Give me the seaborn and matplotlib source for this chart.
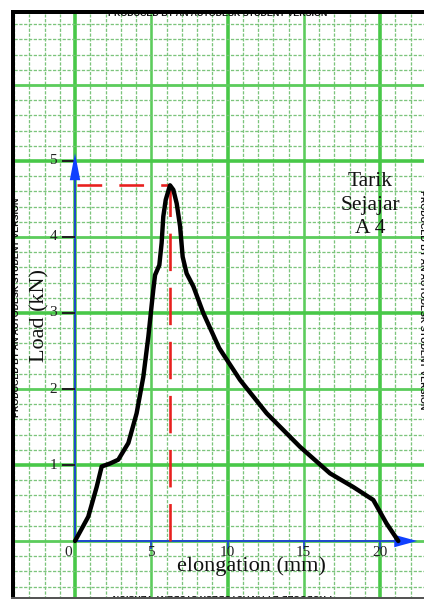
import numpy as np
import pandas as pd
import matplotlib
matplotlib.use("Agg")
import matplotlib.pyplot as plt
import seaborn as sns
from matplotlib.patches import Rectangle

# ---- data ----
elongation_mm = [0, 0.87, 1.42, 1.75, 2.30, 2.84, 3.50, 4.04, 4.48, 4.81, 5.13, 5.25,
                 5.53, 5.68, 5.79, 5.95, 6.23, 6.45, 6.67, 6.89, 7.06, 7.32, 7.76,
                 8.41, 9.45, 10.82, 12.57, 14.75, 16.72, 18.25, 19.56, 20.43, 21.20]
load_kN = [0, 0.32, 0.71, 0.98, 1.02, 1.07, 1.29, 1.68, 2.16, 2.69, 3.30, 3.50,
           3.63, 3.92, 4.27, 4.49, 4.68, 4.62, 4.44, 4.14, 3.74, 3.52, 3.35,
           3.00, 2.54, 2.12, 1.68, 1.24, 0.89, 0.71, 0.54, 0.23, 0.0]
peak_elongation = 6.25
peak_load = 4.68
x_ticks = [5, 10, 15, 20]
x_tick_labels = ["5", "10", "15", "20"]
y_ticks = [1, 2, 3, 4, 5]
y_tick_labels = ["1", "2", "3", "4", "5"]
origin_label = "0"
x_label = "elongation (mm)"
y_label = "Load (kN)"
note = "Tarik\nSejajar\nA 4"
watermark = "PRODUCED BY AN AUTODESK STUDENT VERSION"

df = pd.DataFrame({"elongation": elongation_mm, "load": load_kN})

sns.set_theme(style="white")
plt.rcParams['font.family'] = ['Liberation Serif', 'DejaVu Serif']

W, H = 424, 599
PX = 0.72  # points per pixel at dpi 100
fig = plt.figure(figsize=(W / 100, H / 100), dpi=100)
fig.patch.set_facecolor('white')
ax = fig.add_axes([14 / W, 0, (W - 14) / W, (H - 14) / H])
ax.set_xlim(-4.0, 22.885)
ax.set_ylim(-0.763, 6.934)
ax.axis('off')

# ---- graph paper ----
thin_c = '#7cc47c'
for xv in np.arange(-4, 23, 1):
    if xv % 10 == 0:
        ax.axvline(xv, color='#48c848', lw=3.6 * PX, zorder=0)
    elif xv % 5 == 0:
        ax.axvline(xv, color='#5ccc5c', lw=2.6 * PX, zorder=0)
    else:
        ax.axvline(xv, color=thin_c, lw=1.3 * PX, dashes=(2.5, 1.2), zorder=0)
for yv in np.round(np.arange(-0.6, 7.0, 0.2), 1):
    if abs(yv - round(yv)) < 1e-6:
        if int(round(yv)) % 2 == 1:
            ax.axhline(yv, color='#48c848', lw=3.6 * PX, zorder=0)
        else:
            ax.axhline(yv, color='#5ccc5c', lw=2.8 * PX, zorder=0)
    else:
        ax.axhline(yv, color=thin_c, lw=1.3 * PX, dashes=(2.5, 1.2), zorder=0)

# ---- blue axes with arrows ----
blue = '#1a3fd6'
ax.plot([0, 0], [0, 4.9], color=blue, lw=1.8 * PX, zorder=3)
ax.plot([0, 21.6], [0, 0], color=blue, lw=1.8 * PX, zorder=3)
ax.annotate('', xy=(0, 5.14), xytext=(0, 4.75),
            arrowprops=dict(arrowstyle='-|>,head_length=1.3,head_width=0.25',
                            color='#1040ff', lw=0, mutation_scale=15), zorder=4)
ax.annotate('', xy=(22.62, 0), xytext=(21.2, 0),
            arrowprops=dict(arrowstyle='-|>,head_length=1.1,head_width=0.3',
                            color='#1040ff', lw=0, mutation_scale=15), zorder=4)

# ticks
ax.vlines(x_ticks, -0.105, 0, color=blue, lw=1.6 * PX, zorder=3)
ax.hlines(y_ticks, -0.85, 0, color='#202020', lw=2.0 * PX, zorder=3)
for xv, lab in zip(x_ticks, x_tick_labels):
    ax.text(xv, -0.15, lab, ha='center', va='center', fontsize=11, color='#222222', zorder=5)
ax.text(-0.46, -0.15, origin_label, ha='center', va='center', fontsize=11, color='#222222', zorder=5)
for yv, lab in zip(y_ticks, y_tick_labels):
    ax.text(-1.18, yv, lab, ha='right', va='center', fontsize=11, color='#222222', zorder=5)

# ---- red dashed peak guides ----
red = '#e8201e'
ax.plot([0.1, peak_elongation], [peak_load, peak_load], color=red, lw=2.6 * PX,
        dashes=(9.5, 6.6), zorder=3)
ax.plot([peak_elongation, peak_elongation], [0, peak_load], color=red, lw=2.6 * PX,
        dashes=(14.4, 6.4), zorder=3)

# ---- load-elongation curve ----
sns.lineplot(data=df, x="elongation", y="load", sort=False, estimator=None,
             color='black', lw=4.4 * PX, ax=ax, zorder=6)
for l in ax.get_lines()[-1:]:
    l.set_solid_capstyle('round')
    l.set_solid_joinstyle('round')

# ---- labels ----
ax.text(11.6, -0.335, x_label, ha='center', va='center', fontsize=16, color='#111111', zorder=5)
ax.text(-2.3, 2.97, y_label, ha='center', va='center', rotation=90, fontsize=16,
        color='#111111', zorder=5)
ax.text(19.34, 4.42, note, ha='center', va='center', multialignment='center',
        fontsize=15.5, linespacing=1.32, color='#111111', zorder=5)

# ---- watermarks ----
wm = dict(fontsize=6.4, fontweight='bold', family=['Liberation Sans', 'DejaVu Sans'],
          color='#111111', zorder=5)
fig.text(218 / W, 1 - 14 / H, watermark, ha='center', va='center', **wm)
fig.text(17 / W, 1 - 307 / H, watermark, ha='center', va='center', rotation=90, **wm)
fig.text(423 / W, 1 - 300 / H, watermark, ha='center', va='center', rotation=-90, **wm)
fig.text(222 / W, 1 - 596 / H, watermark, ha='center', va='center', rotation=180, **wm)

# ---- scanned frame ----
fig.patches.append(Rectangle((11 / W, 0), 4 / W, 1 - 10 / H, transform=fig.transFigure,
                             facecolor='black', edgecolor='none', zorder=10))
fig.patches.append(Rectangle((11 / W, 1 - 14 / H), 1 - 11 / W, 4 / H, transform=fig.transFigure,
                             facecolor='black', edgecolor='none', zorder=10))
fig.patches.append(Rectangle((11 / W, 0), 1 - 11 / W, 2 / H, transform=fig.transFigure,
                             facecolor='#555555', edgecolor='none', zorder=10))

fig.savefig("out.png", dpi=100, facecolor='white')
